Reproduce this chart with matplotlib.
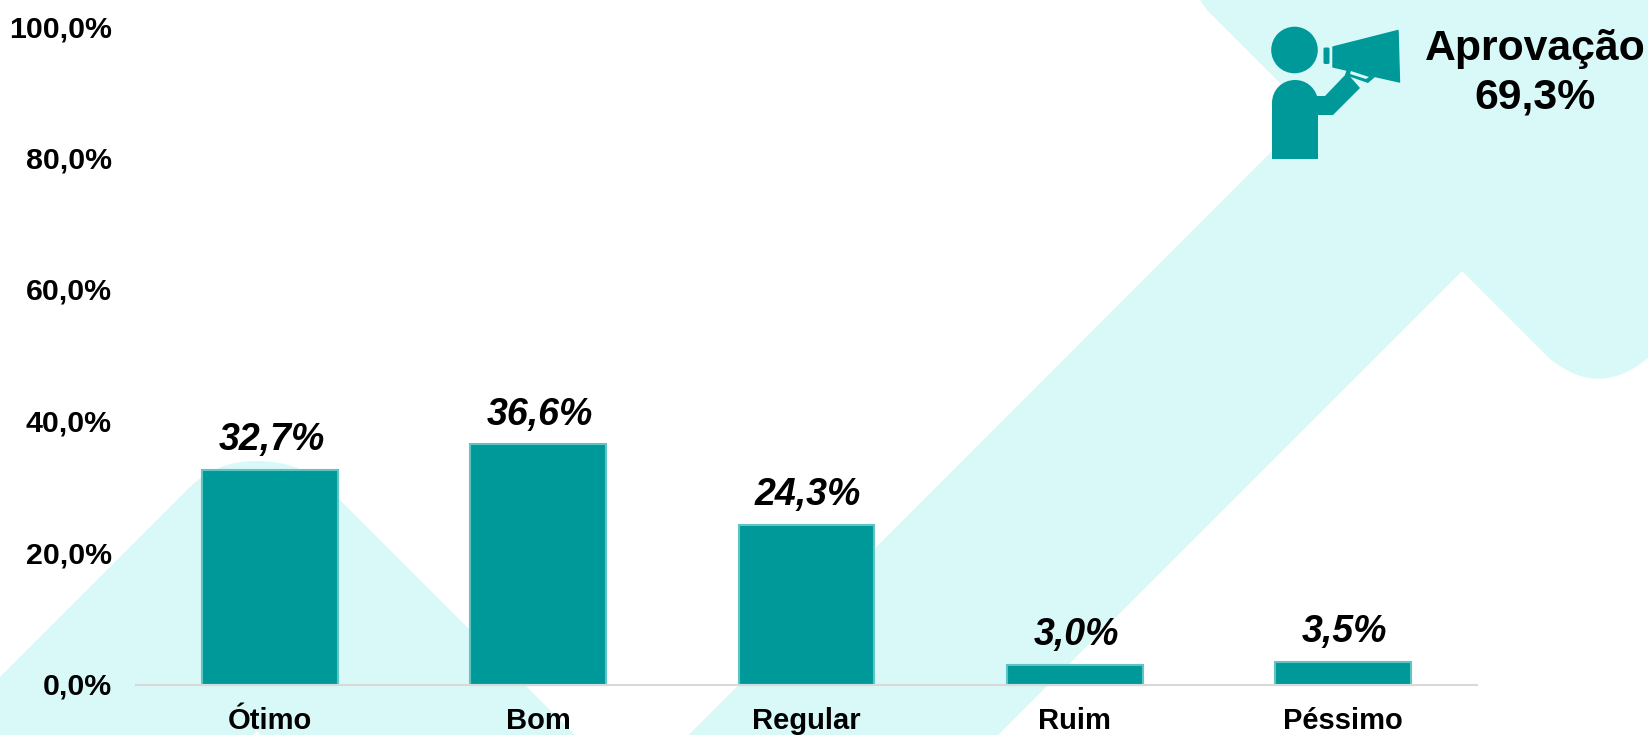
import matplotlib
matplotlib.use("Agg")
import matplotlib.pyplot as plt
from matplotlib.patches import Circle, FancyBboxPatch, PathPatch, Polygon
from matplotlib.path import Path
from matplotlib.transforms import ScaledTranslation

categories = ["Ótimo", "Bom", "Regular", "Ruim", "Péssimo"]
values = [32.7, 36.6, 24.3, 3.0, 3.5]
value_labels = ["32,7%", "36,6%", "24,3%", "3,0%", "3,5%"]
y_ticks = [0, 20, 40, 60, 80, 100]
y_tick_labels = ["0,0%", "20,0%", "40,0%", "60,0%", "80,0%", "100,0%"]
badge_title = "Aprovação"
badge_value = "69,3%"

TEAL = "#009999"
BAR_EDGE = "#5FC4C4"
LIGHT = "#D9F9F8"
W, H = 1649, 735

plt.rcParams["font.family"] = ["Liberation Sans", "DejaVu Sans"]

fig = plt.figure(figsize=(W / 100, H / 100), dpi=100, facecolor="white")

# ---- Background shapes, in pixel coordinates ----
bg = fig.add_axes([0, 0, 1, 1], zorder=0)
bg.set_xlim(0, W)
bg.set_ylim(H, 0)
bg.axis("off")

left_verts = [(0, 677), (190, 487), (216, 461), (256, 461), (301, 461), (327, 487), (575, 735),
              (261, 735), (257, 731), (253, 735), (0, 735), (0, 677)]
left_codes = [Path.MOVETO, Path.LINETO, Path.CURVE3, Path.CURVE3, Path.CURVE3, Path.CURVE3, Path.LINETO,
              Path.LINETO, Path.LINETO, Path.LINETO, Path.LINETO, Path.CLOSEPOLY]
bg.add_patch(PathPatch(Path(left_verts, left_codes), fc=LIGHT, ec="none"))

band_verts = [(1200, 0), (1207, 10), (1217, 20), (1310, 113), (688.5, 735), (998, 735),
              (1462, 271), (1549, 358), (1599, 400), (1649, 357), (1649, 0), (1200, 0)]
band_codes = [Path.MOVETO, Path.LINETO, Path.LINETO, Path.LINETO, Path.LINETO, Path.LINETO,
              Path.LINETO, Path.LINETO, Path.CURVE3, Path.CURVE3, Path.LINETO, Path.CLOSEPOLY]
bg.add_patch(PathPatch(Path(band_verts, band_codes), fc=LIGHT, ec="none"))

# ---- Bar chart ----
ax = fig.add_axes([136 / W, 1 - 685 / H, (1477 - 136) / W, (685 - 27.5) / H], zorder=1)
ax.patch.set_alpha(0)
x = range(len(categories))
bars = ax.bar(x, values, width=0.507, color=TEAL, edgecolor=BAR_EDGE, linewidth=1.5, clip_on=False)
ax.set_xlim(-0.5, 4.5)
ax.set_ylim(0, 100)

for bar, label in zip(bars, value_labels):
    ax.annotate(label, (bar.get_x() + bar.get_width() / 2, bar.get_height()),
                xytext=(1, 8.5), textcoords="offset points", ha="center", va="bottom",
                fontsize=27, fontweight="bold", fontstyle="italic", color="black")

ax.set_xticks(list(x))
ax.set_xticklabels(categories, fontsize=21, fontweight="bold")
ax.set_yticks(y_ticks)
ax.set_yticklabels(y_tick_labels, fontsize=21.8, fontweight="bold")
ax.tick_params(axis="x", length=0, pad=15.5)
ax.tick_params(axis="y", length=0, pad=17.5)
for tick_label in ax.get_yticklabels():
    tick_label.set_transform(tick_label.get_transform() + ScaledTranslation(0, 1.5 / 100, fig.dpi_scale_trans))
for side in ["top", "left", "right"]:
    ax.spines[side].set_visible(False)
ax.spines["bottom"].set_color("#D9D9D9")
ax.spines["bottom"].set_linewidth(1.5)

# ---- Megaphone icon and badge, drawn over the chart ----
top = fig.add_axes([0, 0, 1, 1], zorder=2)
top.set_xlim(0, W)
top.set_ylim(H, 0)
top.axis("off")

top.add_patch(Circle((1294.5, 50), 23.3, fc=TEAL, ec="none"))
body_verts = [(1272, 159), (1272, 103), (1272, 90), (1282, 80), (1295, 80), (1306, 80), (1314, 87), (1317, 96),
              (1325, 96), (1347, 73), (1360, 88), (1336, 112), (1333, 115), (1318, 115),
              (1318, 159), (1272, 159)]
body_codes = [Path.MOVETO, Path.LINETO, Path.CURVE4, Path.CURVE4, Path.CURVE4, Path.CURVE4, Path.CURVE4, Path.CURVE4,
              Path.LINETO, Path.LINETO, Path.LINETO, Path.LINETO, Path.LINETO, Path.LINETO,
              Path.LINETO, Path.CLOSEPOLY]
top.add_patch(PathPatch(Path(body_verts, body_codes), fc=TEAL, ec="none"))
top.add_patch(Polygon([(1333, 47), (1398, 30.5), (1399.5, 82), (1333, 67)], fc=TEAL, ec=TEAL,
                      lw=1, joinstyle="round"))
top.add_patch(FancyBboxPatch((1325, 49), 3, 13.5, boxstyle="round,pad=1.5", fc=TEAL, ec="none"))
top.add_patch(Polygon([(1347, 69), (1375, 77), (1368, 83), (1345, 75)], fc=TEAL, ec="none"))
top.add_patch(Polygon([(1351, 71), (1369, 77), (1366, 79), (1350, 74)], fc=LIGHT, ec="none"))

top.text(1535, 60, badge_title, ha="center", va="baseline", fontsize=30.8, fontweight="bold")
top.text(1535, 108, badge_value, ha="center", va="baseline", fontsize=30.8, fontweight="bold")

fig.savefig("out.png", dpi=100, facecolor="white")
plt.close(fig)
